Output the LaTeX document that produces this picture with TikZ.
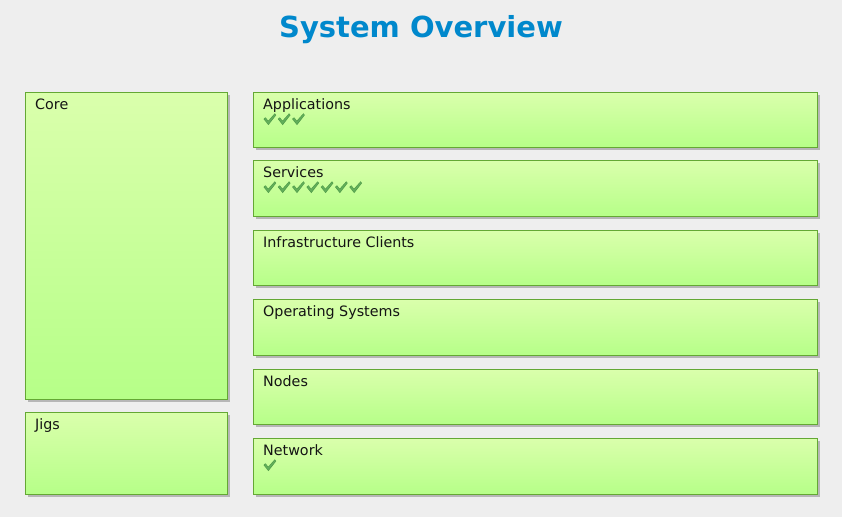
\documentclass[tikz,border=0pt]{standalone}
\usepackage{fontspec}
\setmainfont{DejaVu Sans}
\usetikzlibrary{shadows}
\definecolor{bg}{HTML}{EEEEEE}
\definecolor{titleblue}{HTML}{0088CC}
\definecolor{boxline}{HTML}{64A834}
\definecolor{boxtop}{HTML}{DAFFAC}
\definecolor{boxbot}{HTML}{B6FF88}
\definecolor{checkgreen}{HTML}{62AE5A}
\definecolor{checkdark}{HTML}{4E9A48}
\tikzset{
  panel/.style={draw=boxline, line width=1pt, top color=boxtop, bottom color=boxbot,
    anchor=north west, inner sep=0pt,
    drop shadow={shadow xshift=2pt, shadow yshift=-2pt, opacity=0.45, fill=black!55}},
  lbl/.style={anchor=north west, inner sep=0pt, font=\fontsize{14.3}{16}\selectfont, text=black!92},
  tick/.pic={
    \fill[checkdark] (0.5,4.5) -- (2.5,2.8) -- (5.2,6.2) -- (11.8,-1.2) -- (13.2,0.6) -- (5.4,10.6) -- cycle;
    \fill[checkgreen] (1.4,4.6) -- (2.6,3.6) -- (5.2,7.0) -- (11.8,-0.3) -- (12.5,0.6) -- (5.3,9.6) -- cycle;
  }
}
\begin{document}
\begin{tikzpicture}[x=1pt,y=-1pt]
\fill[bg] (0,0) rectangle (842,517);
\useasboundingbox (0,0) rectangle (842,517);
\node[font=\fontsize{29}{32}\selectfont\bfseries, text=titleblue] (title) at (421,30) {System Overview};

\node[panel, minimum width=202pt, minimum height=307pt] (core) at (25,92) {};
\node[panel, minimum width=202pt, minimum height=82pt] (jigs) at (25,412) {};
\node[panel, minimum width=564pt, minimum height=55pt] (apps) at (253,92) {};
\node[panel, minimum width=564pt, minimum height=56pt] (serv) at (253,160) {};
\node[panel, minimum width=564pt, minimum height=55pt] (infra) at (253,230) {};
\node[panel, minimum width=564pt, minimum height=56pt] (os) at (253,299) {};
\node[panel, minimum width=564pt, minimum height=55pt] (nodes) at (253,369) {};
\node[panel, minimum width=564pt, minimum height=56pt] (net) at (253,438) {};

\node[lbl] (corel) at ([shift={(10,6.5)}]core.north west) {Core};
\node[lbl] (jigsl) at ([shift={(10,6.5)}]jigs.north west) {Jigs};
\node[lbl] (appsl) at ([shift={(10,6.5)}]apps.north west) {Applications};
\node[lbl] (servl) at ([shift={(10,6.5)}]serv.north west) {Services};
\node[lbl] (infral) at ([shift={(10,6.5)}]infra.north west) {Infrastructure Clients};
\node[lbl] (osl) at ([shift={(10,6.5)}]os.north west) {Operating Systems};
\node[lbl] (nodesl) at ([shift={(10,6.5)}]nodes.north west) {Nodes};
\node[lbl] (netl) at ([shift={(10,6.5)}]net.north west) {Network};

\foreach \i in {0,1,2} { \pic at ([shift={(10+14.3*\i,22.5)}]apps.north west) {tick}; }
\foreach \i in {0,...,6} { \pic at ([shift={(10+14.3*\i,22.5)}]serv.north west) {tick}; }
\pic at ([shift={(10,22.5)}]net.north west) {tick};
\end{tikzpicture}
\end{document}
